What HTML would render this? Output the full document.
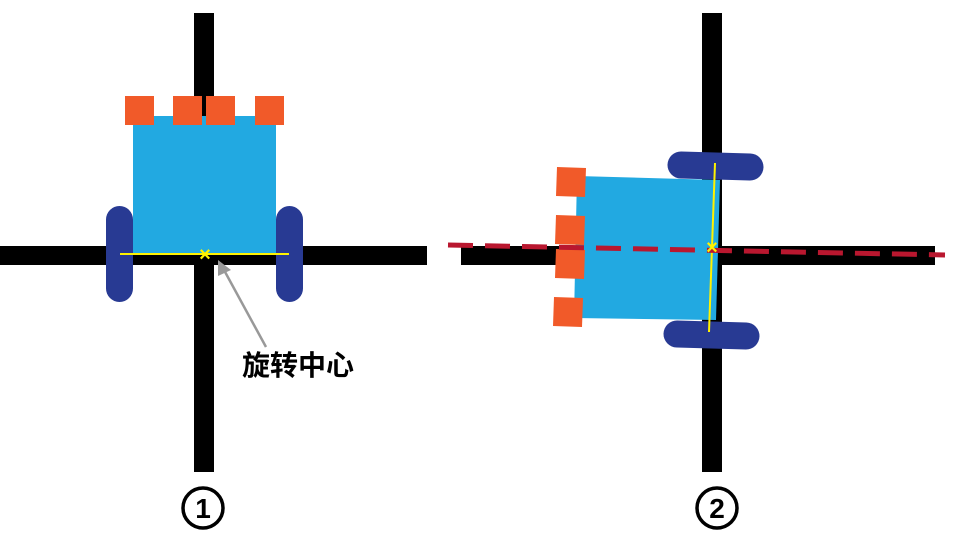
<!DOCTYPE html>
<html><head><meta charset="utf-8"><style>
html,body{margin:0;padding:0;background:#fff;}
svg{display:block;}
</style></head><body>
<svg width="953" height="538" viewBox="0 0 953 538">
<g>
  <rect x="194" y="13" width="20" height="459" fill="#000"/>
  <rect x="0" y="246" width="427" height="19" fill="#000"/>
  <rect x="133" y="116" width="143" height="139" fill="#22a9e1"/>
  <rect x="125" y="96" width="29" height="29" fill="#f15a29"/>
  <rect x="173" y="96" width="29" height="29" fill="#f15a29"/>
  <rect x="206" y="96" width="29" height="29" fill="#f15a29"/>
  <rect x="255" y="96" width="29" height="29" fill="#f15a29"/>
  <rect x="106" y="206" width="27" height="96" rx="13.5" fill="#283a93"/>
  <rect x="276" y="206" width="27" height="96" rx="13.5" fill="#283a93"/>
  <line x1="120" y1="254" x2="289" y2="254" stroke="#fff200" stroke-width="2"/>
  <text x="205" y="261" font-family="Liberation Sans, sans-serif" font-size="20" font-weight="bold" fill="#fff200" text-anchor="middle">×</text>
  <line x1="266" y1="347" x2="224" y2="270" stroke="#999" stroke-width="2.5"/>
  <polygon points="218,260 218,276 231,270" fill="#999"/>
  <text x="242" y="375" font-family="Liberation Sans, 'Noto Sans CJK SC', sans-serif" font-size="28" font-weight="bold" fill="#000">旋转中心</text>
  <circle cx="203" cy="508" r="20" fill="none" stroke="#000" stroke-width="3.5"/>
  <text x="203" y="518" font-family="Liberation Sans, sans-serif" font-size="28" font-weight="bold" text-anchor="middle">1</text>
</g>
<g>
  <rect x="702" y="13" width="20" height="459" fill="#000"/>
  <rect x="461" y="246" width="474" height="19" fill="#000"/>
  <polygon points="577,176 720,180 716,320 574,318" fill="#22a9e1"/>
  <polygon points="557,167 586,168 585,197 556,196" fill="#f15a29"/>
  <polygon points="556,215 585,216 584,245 555,244" fill="#f15a29"/>
  <polygon points="556,249 585,250 584,279 555,278" fill="#f15a29"/>
  <polygon points="554,297 583,298 582,327 553,326" fill="#f15a29"/>
  <line x1="681" y1="165" x2="750" y2="167" stroke="#283a93" stroke-width="27" stroke-linecap="round"/>
  <line x1="677" y1="334" x2="746" y2="336" stroke="#283a93" stroke-width="27" stroke-linecap="round"/>
  <line x1="715" y1="163" x2="709" y2="332" stroke="#fff200" stroke-width="2"/>
  <line x1="448" y1="245" x2="945" y2="255" stroke="#b9172f" stroke-width="5" stroke-dasharray="25 12"/>
  <text x="712" y="254" font-family="Liberation Sans, sans-serif" font-size="20" font-weight="bold" fill="#fff200" text-anchor="middle">×</text>
  <circle cx="717" cy="508" r="20" fill="none" stroke="#000" stroke-width="3.5"/>
  <text x="717" y="518" font-family="Liberation Sans, sans-serif" font-size="28" font-weight="bold" text-anchor="middle">2</text>
</g>
</svg>
</body></html>
